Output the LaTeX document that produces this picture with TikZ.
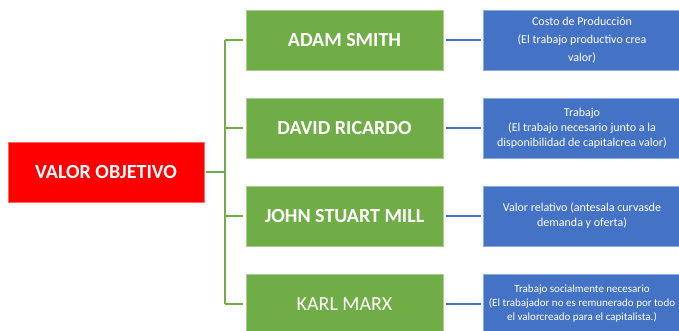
\documentclass[tikz,border=0pt]{standalone}
\usepackage{fontspec}
\setmainfont{Carlito}
\usetikzlibrary{positioning}
\definecolor{boxgreen}{HTML}{70AD47}
\definecolor{boxblue}{HTML}{4472C4}
\definecolor{boxred}{HTML}{FF0000}
\begin{document}
\begin{tikzpicture}[x=1pt,y=1pt,
  rootbox/.style={fill=boxred,draw=boxred!60!white,line width=0.6pt,minimum width=196pt,minimum height=60pt,text=white,font=\fontsize{20}{24}\selectfont\bfseries},
  namebox/.style={fill=boxgreen,draw=boxgreen!60!white,line width=0.6pt,minimum width=197pt,minimum height=60pt,text=white,font=\fontsize{20}{24}\selectfont\bfseries},
  ideabox/.style={fill=boxblue,draw=boxblue!60!white,line width=0.6pt,minimum width=197pt,minimum height=60pt,text=white,align=center,font=\fontsize{12}{15}\selectfont},
  gline/.style={draw=boxgreen,line width=1.8pt},
  bline/.style={draw=boxblue!85!gray,line width=2.2pt,shorten <=3pt,shorten >=2pt}]

\useasboundingbox (0,0) rectangle (679,330);
\fill[white] (0,0) rectangle (679,330);
\clip (0,0) rectangle (679,330);

\node[rootbox] (valor) at (106,158) {VALOR OBJETIVO};

\node[namebox] (smith) at (344.5,290) {ADAM SMITH};
\node[namebox] (ricardo) at (344.5,202) {DAVID RICARDO};
\node[namebox] (mill) at (344.5,114) {JOHN STUART MILL};
\node[namebox,font=\fontsize{20}{24}\selectfont] (marx) at (344.5,26) {KARL MARX};

\node[ideabox,font=\fontsize{12}{18}\selectfont] (smithidea) at (582,290) {Costo de Producción\\(El trabajo productivo crea\\valor)};
\node[ideabox] (ricardoidea) at (582,202) {Trabajo\\(El trabajo necesario junto a la\\disponibilidad de capitalcrea valor)};
\node[ideabox] (millidea) at (582,114) {Valor relativo (antesala curvasde\\demanda y oferta)};
\node[ideabox,inner xsep=2pt,font=\fontsize{11}{14}\selectfont] (marxidea) at (582,26) {Trabajo socialmente necesario\\(El trabajador no es remunerado por todo\\el valorcreado para el capitalista.)};

\draw[gline,shorten <=2pt] (valor.east) -- ++(21,0) coordinate (trunk);
\draw[gline] (trunk |- smith) -- (trunk |- marx);
\foreach \who in {smith,ricardo,mill,marx}
  \draw[gline,shorten >=3pt] (trunk |- \who) -- (\who.west);

\draw[bline] (smith) -- (smithidea);
\draw[bline] (ricardo) -- (ricardoidea);
\draw[bline] (mill) -- (millidea);
\draw[bline] (marx) -- (marxidea);

\end{tikzpicture}
\end{document}
